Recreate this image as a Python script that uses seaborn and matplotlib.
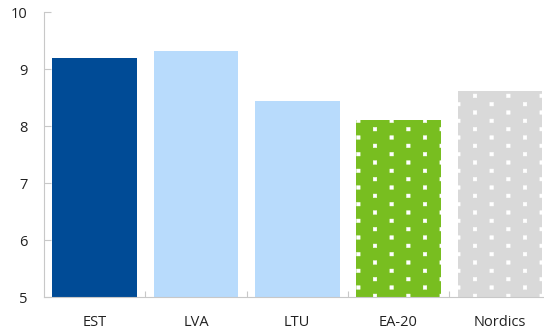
import numpy as np
import pandas as pd
import matplotlib.pyplot as plt
import matplotlib.hatch as mhatch
from matplotlib.path import Path
import seaborn as sns

categories = ['EST', 'LVA', 'LTU', 'EA-20', 'Nordics']
values = [9.19, 9.32, 8.44, 8.11, 8.61]
colors = ['#004b96', '#b8dbfc', '#b8dbfc', '#78be20', '#d9d9d9']
hatches = ['', '', '', '.', '.']


# staggered square dots (rows ~8px apart, ~32px apart within a row)
class SquareDots(mhatch.HatchPatternBase):
    n_rows, n_cols, half = 12, 3, 0.018

    def __init__(self, hatch, density):
        self.on = '.' in hatch
        self.num_vertices = 5 * self.n_rows * self.n_cols if self.on else 0

    def set_vertices_and_codes(self, vertices, codes):
        k = 0
        for i in range(self.n_rows):
            y = (i + 0.5) / self.n_rows
            for j in range(self.n_cols):
                x = (j + 0.25 + 0.5 * (i % 2)) / self.n_cols
                h = self.half
                vertices[k:k + 5] = [(x - h, y - h), (x + h, y - h),
                                     (x + h, y + h), (x - h, y + h), (x - h, y - h)]
                codes[k:k + 5] = [Path.MOVETO, Path.LINETO, Path.LINETO,
                                  Path.LINETO, Path.CLOSEPOLY]
                k += 5


mhatch._hatch_types = [t for t in mhatch._hatch_types
                       if t is not mhatch.SmallFilledCircles] + [SquareDots]

df = pd.DataFrame({'country': categories, 'value': values})

sns.set_theme(style='white')
plt.rcParams['font.family'] = ['Open Sans', 'DejaVu Sans']
plt.rcParams['hatch.color'] = 'white'
plt.rcParams['hatch.linewidth'] = 0.3

fig, ax = plt.subplots(figsize=(5.44, 3.29), dpi=100)
sns.barplot(data=df, x='country', y='value', hue='country', palette=colors,
            width=0.836, legend=False, ax=ax, saturation=1)

for patch, h in zip(ax.patches, hatches):
    patch.set_hatch(h)
    patch.set_linewidth(0)

ax.set_ylim(5, 10)
ax.set_xlim(-0.5, 4.436)
ax.set_yticks([5, 6, 7, 8, 9, 10])
ax.set_xticks([0.5, 1.5, 2.5, 3.5], minor=True)
ax.set_xlabel('')
ax.set_ylabel('')
ax.tick_params(axis='both', labelsize=10.5, labelcolor='#222222', direction='in',
               length=5, color='#c8c8c8', width=0.8)
ax.tick_params(axis='y', left=True, pad=12)
ax.tick_params(axis='x', which='major', length=0, pad=13)
ax.tick_params(axis='x', which='minor', bottom=True, direction='in', length=4,
               color='#c8c8c8', width=0.8)
sns.despine(ax=ax, top=True, right=True)
for s in ['left', 'bottom']:
    ax.spines[s].set_color('#c8c8c8')
    ax.spines[s].set_linewidth(0.8)

fig.subplots_adjust(left=0.081, right=1.0, top=0.963, bottom=0.097)
fig.savefig('out.png', dpi=100)
